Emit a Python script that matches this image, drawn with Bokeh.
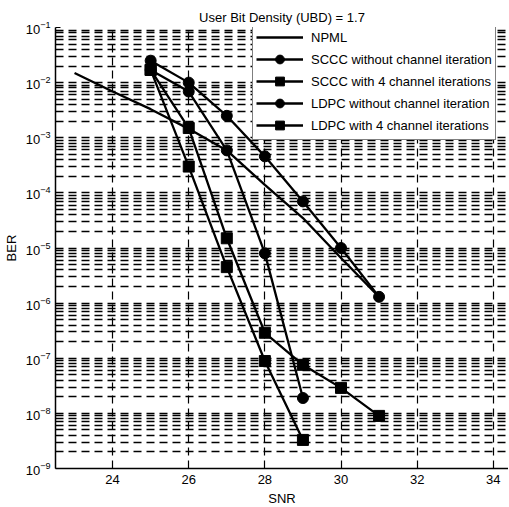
from bokeh.plotting import figure
from bokeh.models import (FixedTicker, LogTickFormatter, Legend, LegendItem,
                          Range1d)
from bokeh.embed import file_html
from bokeh.resources import INLINE

# ---- data ----
snr_npml = [23, 24, 25, 26, 27, 28, 29, 30, 31]
ber_npml = [1.5e-2, 6.9e-3, 3.3e-3, 1.45e-3, 5.9e-4, 1.4e-4, 3.5e-5, 6.6e-6, 1.3e-6]

snr_sccc_wo = [25, 26, 27, 28, 29, 30, 31]
ber_sccc_wo = [2.5e-2, 1.0e-2, 2.5e-3, 4.6e-4, 7.0e-5, 1.0e-5, 1.3e-6]

snr_sccc_w4 = [25, 26, 27, 28, 29, 30, 31]
ber_sccc_w4 = [1.7e-2, 1.5e-3, 1.5e-5, 2.9e-7, 7.6e-8, 2.9e-8, 9.0e-9]

snr_ldpc_wo = [25, 26, 27, 28, 29]
ber_ldpc_wo = [1.7e-2, 6.9e-3, 5.9e-4, 8.0e-6, 1.9e-8]

snr_ldpc_w4 = [25, 26, 27, 28, 29]
ber_ldpc_w4 = [1.7e-2, 3.0e-4, 4.5e-6, 8.9e-8, 3.3e-9]

x_ticks = [24, 26, 28, 30, 32, 34]
y_ticks = [1e-9, 1e-8, 1e-7, 1e-6, 1e-5, 1e-4, 1e-3, 1e-2, 1e-1]
y_minor = [m * 10.0 ** e for e in range(-9, -1) for m in range(2, 10)]

title_text = "User Bit Density (UBD) = 1.7"
labels = ["NPML", "SCCC without channel iteration", "SCCC with 4 channel iterations",
          "LDPC without channel iteration", "LDPC with 4 channel iterations"]

FONT = "Liberation Sans"

p = figure(frame_width=453, frame_height=441,
           x_range=Range1d(22.5, 34.4), y_range=Range1d(1e-9, 1e-1),
           y_axis_type="log", output_backend="svg", toolbar_location=None,
           min_border_left=51, min_border_right=0, min_border_top=27,
           min_border_bottom=34, title=title_text)

p.title.align = "center"
p.title.text_font = FONT
p.title.text_font_size = "13px"
p.title.text_font_style = "normal"
p.title.text_color = "black"
p.title.standoff = 6

p.outline_line_color = None
p.background_fill_color = "white"

# axes
p.xaxis.ticker = FixedTicker(ticks=x_ticks)
p.yaxis.ticker = FixedTicker(ticks=y_ticks, minor_ticks=y_minor)
p.yaxis.formatter = LogTickFormatter()
for ax in (p.xaxis[0], p.yaxis[0]):
    ax.axis_line_color = "black"
    ax.axis_line_width = 1.5
    ax.major_tick_in = 5
    ax.major_tick_out = 0
    ax.major_tick_line_color = "black"
    ax.minor_tick_in = 3
    ax.minor_tick_out = 0
    ax.minor_tick_line_color = "black"
    ax.major_label_text_font = FONT
    ax.major_label_text_font_size = "13px"
    ax.major_label_text_color = "black"
    ax.axis_label_text_font = FONT
    ax.axis_label_text_font_size = "13px"
    ax.axis_label_text_font_style = "normal"
    ax.axis_label_text_color = "black"
p.xaxis.axis_label = "SNR"
p.yaxis.axis_label = "BER"
p.xaxis.major_label_standoff = 6
p.xaxis.axis_label_standoff = 4
p.yaxis.major_label_standoff = 5
p.yaxis.axis_label_standoff = 4

# grid
p.xgrid.ticker = FixedTicker(ticks=x_ticks)
p.xgrid.grid_line_color = "black"
p.xgrid.grid_line_dash = "8 5"
p.xgrid.grid_line_width = 1.2
p.ygrid.grid_line_color = "black"
p.ygrid.grid_line_dash = "8 5"
p.ygrid.grid_line_width = 1.5
p.ygrid.minor_grid_line_color = "black"
p.ygrid.minor_grid_line_dash = "8 5"
p.ygrid.minor_grid_line_width = 1.5

LW = 2.3
MS = 11

r0 = p.line(snr_npml, ber_npml, line_color="black", line_width=LW)

series = [
    (snr_sccc_wo, ber_sccc_wo, "circle"),
    (snr_sccc_w4, ber_sccc_w4, "square"),
    (snr_ldpc_wo, ber_ldpc_wo, "circle"),
    (snr_ldpc_w4, ber_ldpc_w4, "square"),
]
items = [LegendItem(label=labels[0], renderers=[r0])]
for i, (xs, ys, mk) in enumerate(series):
    rl = p.line(xs, ys, line_color="black", line_width=LW)
    rs = p.scatter(xs, ys, marker=mk, size=MS, fill_color="black", line_color="black")
    items.append(LegendItem(label=labels[i + 1], renderers=[rl, rs]))

leg = Legend(items=items, location=(197, 328))
leg.border_line_color = "black"
leg.border_line_width = 1.2
leg.background_fill_color = "white"
leg.background_fill_alpha = 1
leg.label_text_font = FONT
leg.label_text_font_size = "13px"
leg.label_text_color = "black"
leg.glyph_width = 47
leg.glyph_height = 22
leg.label_height = 22
leg.label_standoff = 8
leg.spacing = -1
leg.padding = 3
leg.margin = 0
p.add_layout(leg, "center")

open("out.html", "w").write(file_html(p, INLINE))
